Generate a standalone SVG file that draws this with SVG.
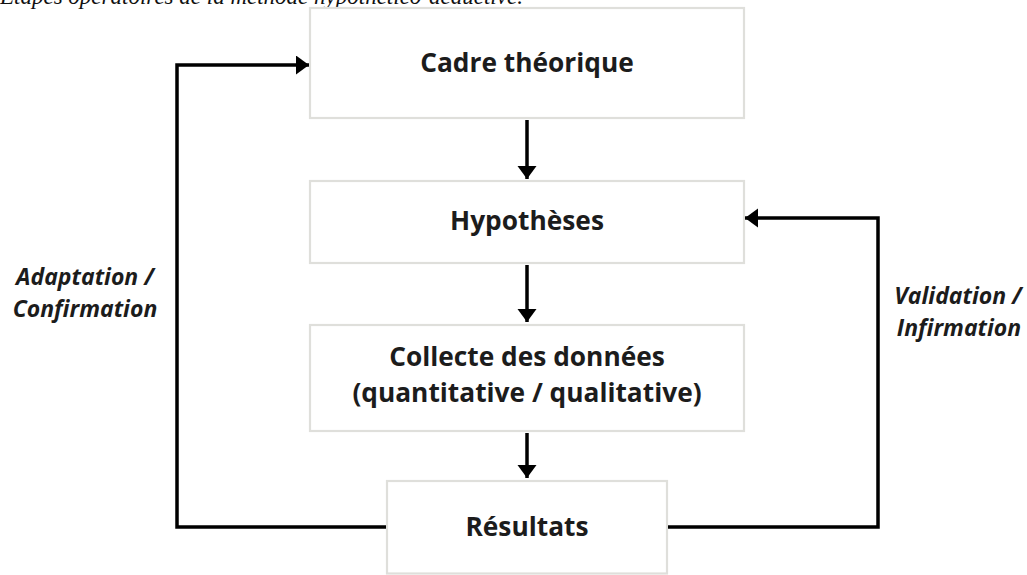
<svg xmlns="http://www.w3.org/2000/svg" width="1027" height="575" viewBox="0 0 1027 575">
<style>
.box{fill:#ffffff;stroke:#dfdfdb;stroke-width:2.2}
.lbl{font-family:"Open Sans","Liberation Sans",sans-serif;font-weight:700;font-size:26.3px;fill:#1c1c1c;text-anchor:middle}
.side{font-family:"Open Sans","Liberation Sans",sans-serif;font-weight:700;font-style:italic;font-size:23px;fill:#1c1c1c;text-anchor:middle}
.title{font-family:"Liberation Serif",serif;font-style:italic;font-size:23px;fill:#111}
.conn{fill:none;stroke:#000;stroke-width:3.5;stroke-linejoin:miter}
</style>
<defs>
<marker id="ah" markerUnits="userSpaceOnUse" markerWidth="16" markerHeight="22" refX="13" refY="9.5" orient="auto">
<path d="M0,0 L13,9.5 L0,19 z" fill="#000"/>
</marker>
</defs>
<rect width="1027" height="575" fill="#ffffff"/>
<text class="title" x="0" y="4">Étapes opératoires de la méthode hypothético-déductive.</text>
<g id="node-cadre">
<rect class="box" x="310" y="8" width="434" height="110"/>
<text class="lbl" x="527" y="72">Cadre théorique</text>
</g>
<g id="node-hypotheses">
<rect class="box" x="310" y="181" width="434" height="82"/>
<text class="lbl" x="527" y="230">Hypothèses</text>
</g>
<g id="node-collecte">
<rect class="box" x="310" y="325" width="434" height="106"/>
<text class="lbl" x="527" y="366">Collecte des données</text>
<text class="lbl" x="527" y="402">(quantitative / qualitative)</text>
</g>
<g id="node-resultats">
<rect class="box" x="387" y="481" width="280" height="92.5"/>
<text class="lbl" x="527" y="536">Résultats</text>
</g>
<g id="connectors">
<line class="conn" x1="527" y1="120" x2="527" y2="179" marker-end="url(#ah)"/>
<line class="conn" x1="527" y1="265" x2="527" y2="322" marker-end="url(#ah)"/>
<line class="conn" x1="527" y1="433" x2="527" y2="478" marker-end="url(#ah)"/>
<polyline class="conn" points="386,527 177,527 177,65 309,65" marker-end="url(#ah)"/>
<polyline class="conn" points="668,527 878,527 878,218 745,218" marker-end="url(#ah)"/>
</g>
<g id="labels">
<text class="side" x="85" y="285">Adaptation /</text>
<text class="side" x="85" y="317">Confirmation</text>
<text class="side" x="958" y="304">Validation /</text>
<text class="side" x="959" y="336">Infirmation</text>
</g>
</svg>
